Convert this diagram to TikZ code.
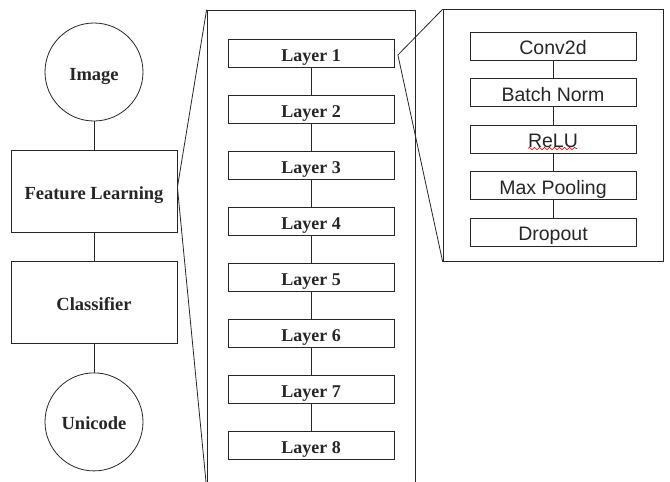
\documentclass[tikz,border=0pt]{standalone}
\usepackage{fontspec}
\setmainfont{Liberation Serif}
\newfontfamily\opfont{Liberation Sans}
\usetikzlibrary{positioning,fit,chains,decorations.pathmorphing}

\begin{document}
\begin{tikzpicture}[
  x=1pt,y=-1pt,
  color=black!85,
  line width=0.8pt,
  every join/.style={-,draw},
  stage/.style={draw,minimum width=166pt,minimum height=82pt,inner sep=2pt,
    text height=16pt,text depth=0pt,font=\bfseries\fontsize{18.5}{22}\selectfont},
  terminal/.style={stage,circle,minimum size=98pt},
  layerbox/.style={draw,minimum width=166pt,minimum height=28pt,inner sep=2pt,
    text height=16pt,text depth=0pt,font=\bfseries\fontsize{18}{22}\selectfont},
  opbox/.style={draw,minimum width=166pt,minimum height=28pt,inner sep=2pt,
    text height=17pt,text depth=0pt,font=\opfont\fontsize{19.5}{23}\selectfont},
  ]
  \useasboundingbox (0,0) rectangle (670,482);

  % overall pipeline
  \begin{scope}[shift={(94,72)},start chain=going below,node distance=28.5pt,
    every node/.append style={join,on chain}]
    \node(image)[terminal]{Image};
    \node(feature)[stage]{Feature Learning};
    \node(classifier)[stage]{Classifier};
    \node(unicode)[terminal]{Unicode};
  \end{scope}

  % feature learning layers
  \begin{scope}[shift={(311,53)},start chain=going below,node distance=27.3pt,
    every node/.append style={join,on chain}]
    \node(layer1)[layerbox]{Layer 1};
    \node(layer2)[layerbox]{Layer 2};
    \node(layer3)[layerbox]{Layer 3};
    \node(layer4)[layerbox]{Layer 4};
    \node(layer5)[layerbox]{Layer 5};
    \node(layer6)[layerbox]{Layer 6};
    \node(layer7)[layerbox]{Layer 7};
    \node(layer8)[layerbox]{Layer 8};
  \end{scope}
  \node(stack)[fit=(layer1)(layer8),draw,inner xsep=20.6pt,inner ysep=28pt,
    yshift=0.5pt]{};

  % inside one layer
  \begin{scope}[shift={(553,46)},start chain=going below,node distance=17.7pt,
    every node/.append style={join,on chain}]
    \node(conv)[opbox]{Conv2d};
    \node(bnorm)[opbox]{Batch Norm};
    \node(relu)[opbox]{ReLU};
    \node(pool)[opbox]{Max Pooling};
    \node(dropout)[opbox]{Dropout};
  \end{scope}
  \node(detail)[fit=(conv)(dropout),draw,inner xsep=26.5pt,inner ysep=18.5pt,
    yshift=3.5pt]{};
  \draw[red,line width=0.6pt,decorate,
    decoration={snake,amplitude=1.2pt,segment length=5pt}]
    ([xshift=-25pt,yshift=-9.5pt]relu.center) -- ([xshift=24pt,yshift=-9.5pt]relu.center);

  % zoom lines
  \coordinate(featurezoom) at ([yshift=4pt]feature.east);
  \draw (stack.north west) -- (featurezoom) -- (stack.south west);
  \coordinate(layerzoom) at ([xshift=3.5pt,yshift=-2pt]layer1.east);
  \draw (detail.north west) -- (layerzoom) -- (detail.south west);
\end{tikzpicture}
\end{document}
